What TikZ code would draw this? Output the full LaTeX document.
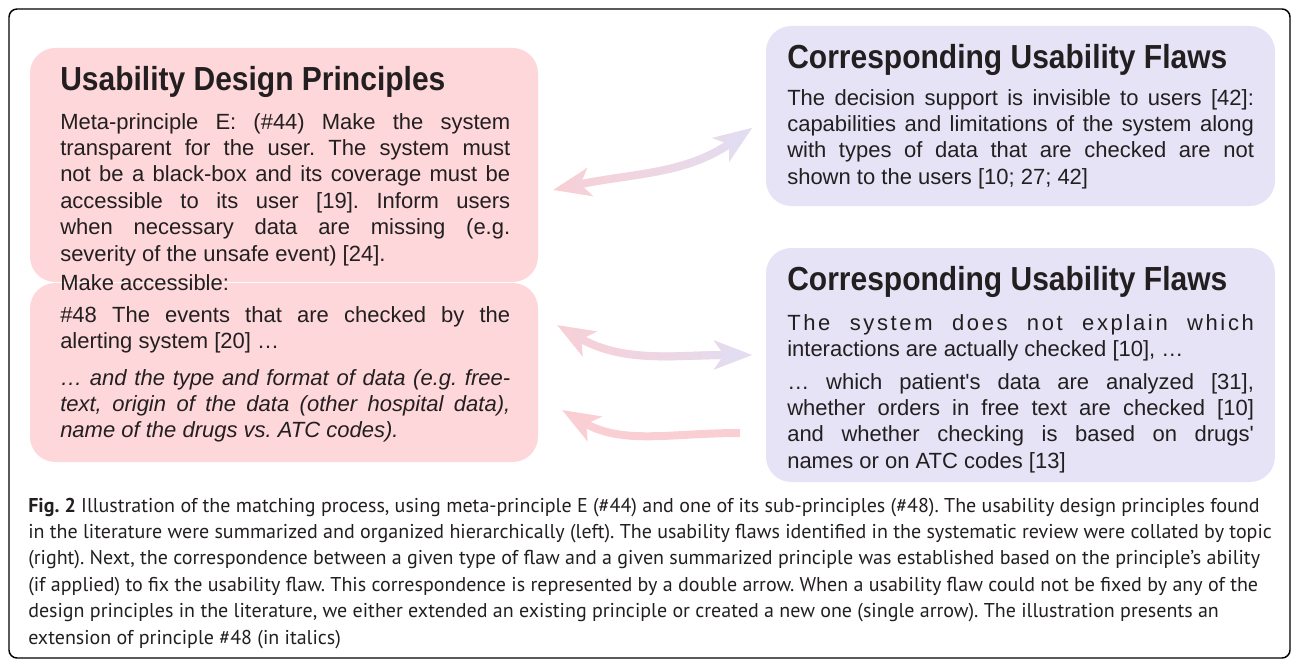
\documentclass[tikz,border=0pt]{standalone}
\usepackage{fontspec}
\setmainfont{Liberation Sans}
\newfontfamily\boxfont{Liberation Sans}
\newfontfamily\titlefont[FakeStretch=0.9]{Liberation Sans}
\newfontfamily\capfont{PT Sans}
\usetikzlibrary{arrows.meta, fadings, fit}
\frenchspacing

\definecolor{boxpink}{RGB}{253,215,218}
\definecolor{boxlav}{RGB}{229,227,245}
\definecolor{arrowpink}{RGB}{250,207,212}
\definecolor{arrowlav}{RGB}{226,222,243}
\definecolor{inkgray}{RGB}{35,31,32}

\tikzfading[name=tolav, left color=transparent!100, right color=transparent!0]

\tikzset{
  pinkbox/.style={fill=boxpink, rounded corners=19pt, inner sep=0pt},
  lavbox/.style={fill=boxlav, rounded corners=19pt, inner sep=0pt},
  boxtitle/.style={font=\titlefont\bfseries\fontsize{25}{28}\selectfont, text=inkgray, inner sep=0pt, anchor=base west},
  boxbody/.style={font=\boxfont\fontsize{16.5}{19.8}\selectfont, text=inkgray, inner sep=0pt, anchor=base west, align=justify},
  flow/.style={line width=6pt, draw=arrowpink},
  flowfade/.style={line width=6pt, draw=arrowlav, path fading=tolav},
  tip/.tip={Stealth[length=28pt, width=21pt, inset=7pt]},
}

\begin{document}
\begin{tikzpicture}[x=0.75pt, y=-0.75pt]
    \useasboundingbox (0,0) rectangle (1292,660);

    % outer frame
    \draw[color=black, line width=1.1pt, rounded corners=6pt] (9,9) rectangle (1290,658);

    % principle boxes
    \node[pinkbox, fit={(30,48) (538,282)}] (meta) {};
    \node[pinkbox, fit={(30,283) (538,462)}] (sub) {};

    \node[boxtitle] (metatitle) at (60,91) {Usability Design Principles};
    \node[boxbody, text width=337.5pt] (metatext) at (60,129)
        {Meta-principle E: (\#44) Make the system\linebreak
         transparent for the user. The system must\linebreak
         not be a black-box and its coverage must be\linebreak
         accessible to its user [19]. Inform users\linebreak
         when necessary data are missing (e.g.\linebreak
         severity of the unsafe event) [24].};
    \node[boxbody] (access) at (60,290) {Make accessible:};
    \node[boxbody, text width=337.5pt] (subtext) at (60,322)
        {\#48 The events that are checked by the\linebreak
         alerting system [20] …};
    \node[boxbody, text width=337.5pt, font=\boxfont\itshape\fontsize{16.5}{19.8}\selectfont] (subext) at (60,385)
        {… and the type and format of data (e.g. free-\linebreak
         text, origin of the data (other hospital data),\linebreak
         name of the drugs vs. ATC codes).};

    % flaw boxes
    \node[lavbox, fit={(766,26) (1275,206)}] (flawa) {};
    \node[lavbox, fit={(766,248) (1275,482)}] (flawb) {};

    \node[boxtitle] (flawatitle) at (787,69) {Corresponding Usability Flaws};
    \node[boxbody, text width=350pt] (flawatext) at (787,105)
        {The decision support is invisible to users [42]:\linebreak
         capabilities and limitations of the system along\linebreak
         with types of data that are checked are not\linebreak
         shown to the users [10; 27; 42]};

    \node[boxtitle] (flawbtitle) at (787,290) {Corresponding Usability Flaws};
    \node[boxbody, text width=350pt] (flawbtext) at (787,330)
        {{\addfontfeature{LetterSpace=12}The system does not explain which}\linebreak
         interactions are actually checked [10], …};
    \node[boxbody, text width=350pt] (flawbext) at (787,389)
        {… which patient\textquotesingle s data are analyzed [31],\linebreak
         whether orders in free text are checked [10]\linebreak
         and whether checking is based on drugs\textquotesingle\linebreak
         names or on ATC codes [13]};

    % arrow ends
    \coordinate (meta-port) at (553,190);
    \coordinate (flawa-port) at (752,128);
    \coordinate (sub-port) at (557,325);
    \coordinate (flawb-port) at (752,355);
    \coordinate (subext-port) at (562,410);
    \coordinate (flawbext-port) at (740,433);

    % double arrows
    \draw[flow, {tip}-{tip}] (meta-port) to[out=12, in=215] (flawa-port);
    \draw[flowfade, {tip}-{tip}] (meta-port) to[out=12, in=215] (flawa-port);
    \draw[flow, {tip}-{tip}] (sub-port) to[out=-30, in=180] (flawb-port);
    \draw[flowfade, {tip}-{tip}] (sub-port) to[out=-30, in=180] (flawb-port);

    % single arrow
    \draw[flow, -{tip}] (flawbext-port) to[out=180, in=-30] (subext-port);

    % caption
    \node[font=\capfont\fontsize{15}{19.8}\selectfont, text=inkgray, inner sep=0pt, anchor=base west, align=left] (caption) at (28,644)
        {\textbf{Fig. 2} Illustration of the matching process, using meta-principle E (\#44) and one of its sub-principles (\#48). The usability design principles found\\
         in the literature were summarized and organized hierarchically (left). The usability flaws identified in the systematic review were collated by topic\\
         (right). Next, the correspondence between a given type of flaw and a given summarized principle was established based on the principle’s ability\\
         (if applied) to fix the usability flaw. This correspondence is represented by a double arrow. When a usability flaw could not be fixed by any of the\\
         design principles in the literature, we either extended an existing principle or created a new one (single arrow). The illustration presents an\\
         extension of principle \#48 (in italics)};
\end{tikzpicture}
\end{document}
